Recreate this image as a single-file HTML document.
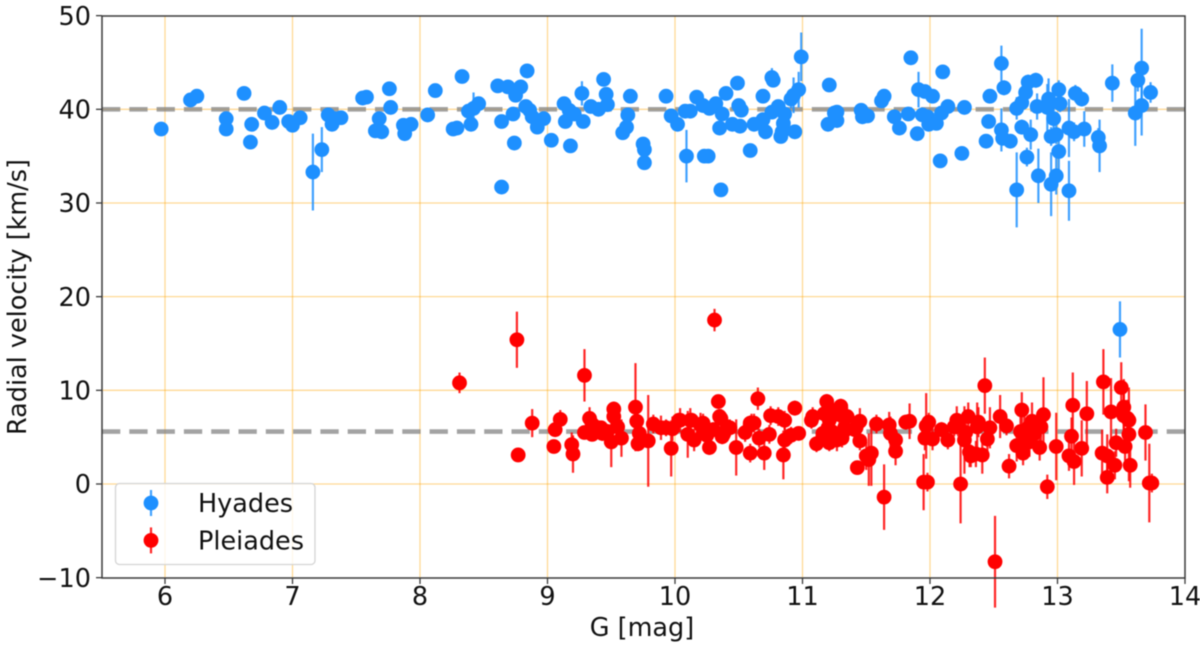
<!DOCTYPE html>
<html>
<head>
<meta charset="utf-8">
<style>
html,body{margin:0;padding:0;background:#fff;width:1200px;height:648px;overflow:hidden}
svg{display:block;filter:blur(0.4px)}
text{font-family:"DejaVu Sans","Liberation Sans",sans-serif;fill:#111}
</style>
</head>
<body>
<svg id="chart" xmlns="http://www.w3.org/2000/svg" width="1200" height="648" viewBox="0 0 1200 648"></svg>
<script>
const xTicks = [6, 7, 8, 9, 10, 11, 12, 13, 14];
const yTicks = [-10, 0, 10, 20, 30, 40, 50];
const refLines = [40, 5.6];

const hyadesG = [5.97,6.20,6.25,6.48,6.48,6.62,6.68,6.67,6.78,6.84,6.90,6.97,7.00,7.06,7.16,7.23,7.28,7.31,7.33,7.38,7.55,7.58,7.68,7.65,7.70,7.76,7.77,7.87,7.88,7.93,8.06,8.12,8.26,8.29,8.33,8.40,8.38,8.42,8.46,8.61,8.64,8.64,8.69,8.73,8.75,8.74,8.79,8.84,8.83,8.86,8.88,8.92,8.97,9.03,9.13,9.14,9.17,9.21,9.18,9.27,9.28,9.34,9.40,9.44,9.46,9.47,9.63,9.65,9.62,9.59,9.75,9.76,9.76,
9.93,9.97,10.02,10.08,10.12,10.09,10.17,10.22,10.27,10.32,10.37,10.23,10.26,10.40,10.35,10.36,10.45,10.49,10.51,10.50,10.52,10.59,10.62,10.69,10.69,10.71,10.76,10.76,10.77,10.81,10.86,10.85,10.84,10.83,10.94,10.91,10.93,10.97,10.99,11.21,11.20,11.27,11.25,11.27,11.46,11.47,11.51,11.62,11.64,11.72,11.76,11.83,11.85,11.91,11.96,11.90,11.94,11.98,11.99,12.05,12.02,12.09,12.14,12.10,12.08,12.25,12.27,12.44,12.46,12.47,12.56,12.56,12.57,12.58,12.63,12.68,12.68,12.72,12.72,12.75,12.77,12.76,12.79,12.83,12.85,12.84,12.93,12.92,12.95,12.95,12.97,12.99,13.01,13.01,12.99,13.02,13.09,13.09,13.13,13.14,13.19,13.21,13.32,13.33,13.43,13.61,13.63,13.66,13.66,13.73,13.49];
const hyadesRV = [37.9,41.0,41.4,39.0,37.9,41.7,38.4,36.5,39.6,38.6,40.2,38.7,38.3,39.1,33.3,35.7,39.4,38.4,39.0,39.1,41.2,41.3,39.0,37.7,37.6,42.2,40.2,38.3,37.4,38.4,39.4,42.0,37.9,38.0,43.5,38.4,39.8,40.1,40.6,42.5,38.7,31.7,42.4,39.5,41.5,36.4,42.4,44.1,40.3,39.9,39.2,38.1,39.0,36.7,40.6,38.7,39.9,39.5,36.1,41.7,38.7,40.3,40.0,43.2,41.6,40.5,39.4,41.4,38.1,37.5,36.3,35.7,34.3,
41.4,39.3,38.4,39.8,39.8,35.0,41.3,40.4,40.1,40.6,39.5,35.0,35.0,41.7,38.0,31.4,38.4,42.8,38.2,40.4,39.9,35.6,38.4,38.9,41.4,37.6,39.7,43.4,43.1,40.3,39.5,38.5,37.6,37.1,37.6,41.1,41.5,42.1,45.6,42.6,38.4,38.8,39.6,39.7,39.9,39.2,39.3,40.9,41.4,39.2,38.0,39.5,45.5,42.1,41.9,37.4,39.4,39.2,38.4,38.5,41.4,39.6,40.3,44.0,34.5,35.3,40.2,36.6,38.7,41.4,44.9,37.8,36.9,42.3,36.6,31.4,40.1,40.7,38.1,41.8,42.9,34.9,37.3,43.1,32.9,40.3,41.1,40.2,37.1,32.0,39.0,32.9,35.5,42.1,37.3,40.6,38.0,31.3,37.6,41.7,41.1,37.9,37.0,36.1,42.8,39.6,43.1,44.4,40.4,41.8,16.5];
const hyadesErr = [0.2,0.2,0.2,0.3,0.3,0.2,0.3,0.3,0.2,0.2,0.2,0.3,0.3,0.2,4.1,2.4,0.4,0.3,0.3,0.3,0.2,0.2,0.3,0.3,0.3,0.3,0.3,0.3,0.3,0.3,0.3,0.3,0.2,0.2,0.3,0.4,0.4,1.7,0.4,0.3,0.3,0.4,0.3,0.4,0.4,0.4,0.4,0.4,0.4,0.4,0.4,0.4,0.4,0.4,0.4,0.4,0.4,0.4,0.4,1.3,0.4,0.4,0.4,0.4,0.4,0.4,0.4,0.4,0.4,0.4,0.5,0.5,0.5,
0.4,0.5,0.5,0.4,0.4,2.8,0.4,0.4,0.4,0.4,0.5,0.4,0.4,0.4,0.4,0.4,0.5,0.4,0.5,0.5,0.5,0.5,0.5,0.5,0.5,0.5,0.5,1.0,0.5,0.5,0.5,0.5,0.5,0.5,0.5,1.0,1.9,1.9,2.6,0.4,0.5,0.5,0.5,0.5,0.5,0.5,0.5,0.5,0.5,0.5,0.5,0.5,0.5,1.9,0.6,0.6,0.5,0.6,0.6,0.6,0.5,0.5,0.6,0.5,0.5,0.6,0.7,0.6,0.6,0.5,1.9,2.3,0.6,0.8,0.7,4.0,1.2,0.9,0.8,0.7,0.8,1.0,1.6,0.8,2.9,1.4,2.2,2.5,1.0,3.4,1.2,2.0,2.0,1.0,1.0,0.9,3.1,3.2,1.0,0.9,0.8,1.9,1.0,2.8,2.0,3.5,1.2,4.2,3.2,1.1,3.0];

const pleiadesG = [8.31,8.76,8.77,8.88,9.10,9.06,9.05,9.19,9.20,9.29,9.33,9.29,9.35,9.35,9.42,9.43,9.50,9.52,9.52,9.55,9.58,9.69,9.70,9.72,9.71,9.79,9.83,9.89,9.93,9.97,9.98,10.03,10.10,10.12,10.15,10.20,10.22,10.23,10.27,10.31,10.34,10.36,10.38,10.43,10.48,10.59,10.55,10.59,
10.62,10.65,10.66,10.70,10.74,10.75,10.81,10.86,10.85,10.86,10.91,10.94,10.97,11.07,11.08,11.11,11.19,11.17,11.21,11.20,11.21,11.17,11.30,11.29,11.27,11.31,11.35,11.33,11.43,11.45,11.42,11.45,11.50,11.52,11.54,11.58,11.64,11.68,11.69,11.73,11.73,11.81,11.84,11.95,11.98,11.97,11.99,11.96,12.02,12.09,12.14,12.19,12.21,12.22,12.27,12.30,12.24,12.31,12.32,12.37,12.36,12.41,12.43,12.47,12.45,12.51,12.55,12.60,12.62,12.72,12.71,12.68,12.73,12.75,12.80,12.82,12.86,12.87,12.89,12.92,12.99,13.11,13.12,13.09,13.13,13.19,13.23,13.36,13.35,13.39,13.39,13.42,13.45,13.46,13.50,13.52,13.52,13.53,13.56,13.56,13.57,13.69,13.72,13.74,
11.16,11.23,11.24,11.33,11.41,10.22,10.30,10.13,10.04,10.25,10.35,10.41,10.37,10.59,10.60,12.38,12.28,12.84,12.77,12.74,12.78,13.55,9.36,9.40,9.47];
const pleiadesRV = [10.8,15.4,3.1,6.5,6.9,5.8,4.0,4.2,3.2,11.6,7.0,5.5,6.4,5.3,6.0,5.4,4.5,8.0,7.2,6.1,4.9,8.2,6.7,5.4,4.3,4.6,6.4,6.0,6.0,3.8,5.9,6.8,5.3,6.8,4.7,6.3,6.5,5.6,3.9,17.5,8.8,7.0,5.3,6.0,3.9,6.3,5.5,3.3,
6.5,9.1,4.9,3.3,5.3,7.3,7.2,6.8,3.1,4.7,5.2,8.1,5.4,6.8,7.2,4.3,8.8,7.5,4.4,6.0,6.8,5.3,8.3,7.4,4.7,4.9,7.2,6.0,1.75,6.7,6.0,4.6,3.0,2.6,3.3,6.4,-1.4,6.3,5.4,4.7,3.5,6.6,6.7,0.2,0.2,6.2,6.6,4.9,4.8,5.8,4.7,6.1,6.8,6.3,4.7,7.2,0.0,3.4,3.0,6.1,3.2,3.1,10.5,6.0,4.8,-8.3,7.2,6.2,1.9,7.9,5.6,4.1,3.3,4.9,6.7,5.4,3.9,6.1,7.4,-0.3,4.0,5.1,8.4,3.0,2.4,3.8,7.5,10.9,3.3,3.0,0.7,7.7,2.0,4.4,10.3,8.2,7.3,4.0,6.8,5.3,2.0,5.5,0.1,0.1,
5.4,5.6,7.8,5.7,5.8,5.4,5.8,6.8,6.8,5.2,7.2,6.1,5.05,6.5,6.5,6.6,5.5,6.0,6.0,5.6,4.5,7.0,5.6,6.0,5.6];
const pleiadesErr = [1.1,3.0,0.4,1.5,1.0,0.6,0.5,1.3,2.0,2.8,1.2,0.6,0.8,0.7,0.7,0.8,2.7,0.8,0.8,0.8,2.0,4.7,0.8,0.8,0.8,4.9,1.0,1.3,0.9,3.0,1.3,0.8,2.5,1.3,1.2,1.3,1.0,0.8,0.8,1.2,0.6,1.0,1.0,0.9,3.0,1.0,1.0,1.0,
1.0,1.2,1.0,1.8,1.0,1.0,1.0,1.0,2.6,2.3,0.9,0.8,0.6,0.9,1.0,0.9,0.8,0.9,0.9,1.0,0.9,0.9,0.8,1.0,1.2,1.0,1.0,0.9,0.6,1.4,1.0,1.0,1.5,2.8,3.5,1.0,3.5,1.4,1.8,1.0,1.5,0.8,1.9,3.0,1.0,3.5,1.0,1.3,1.2,0.8,1.0,1.0,1.5,1.2,3.6,1.5,4.2,1.6,1.2,2.6,1.4,2.0,3.0,2.2,1.5,4.9,2.3,1.0,1.3,1.9,2.2,1.7,1.3,1.3,2.0,1.8,1.4,1.6,4.0,1.3,3.6,2.0,3.5,1.6,2.5,3.0,3.5,3.5,2.5,2.3,1.7,3.6,1.5,1.5,2.7,3.0,2.5,1.5,2.0,5.0,2.4,3.0,4.2,1.0,
0.8,0.8,0.8,0.8,0.8,0.8,0.8,0.8,1.3,0.8,0.8,0.8,0.8,0.8,1.0,1.6,1.2,1.5,1.2,1.6,1.6,2.0,0.8,0.8,0.8];

const plot = {left: 102, right: 1185, top: 16, bottom: 578};
const NS = 'http://www.w3.org/2000/svg';
const svg = document.getElementById('chart');

function xScale(v) { return 165 + (v - 6) * 127.5; }
function yScale(v) { return 484 - v * 9.367; }

function make(tag, attrs, parent) {
  const el = document.createElementNS(NS, tag);
  for (const k in attrs) el.setAttribute(k, attrs[k]);
  (parent || svg).appendChild(el);
  return el;
}

/* grid */
const gridGroup = make('g', {});


xTicks.slice(0, -1).forEach(function (t) {
  const line = make('line', {x1: xScale(t), x2: xScale(t), y1: plot.top, y2: plot.bottom, stroke: '#ffa500', 'stroke-opacity': 0.42, 'stroke-width': 1.3}, gridGroup);
  
  
});
yTicks.slice(1, -1).forEach(function (t) {
  const line = make('line', {x1: plot.left, x2: plot.right, y1: yScale(t), y2: yScale(t), stroke: '#ffa500', 'stroke-opacity': 0.42, 'stroke-width': 1.3}, gridGroup);
  
  
});

/* cluster mean reference lines */
refLines.forEach(function (v) {
  const line = make('line', {x1: plot.left, x2: plot.right, y1: yScale(v), y2: yScale(v), stroke: '#808080', 'stroke-opacity': 0.72, 'stroke-width': 4.6, 'stroke-dasharray': '18.3 9'});
  
  
});

/* series */
function drawSeries(gs, rvs, errs, color, seriesName) {
  const g = make('g', {});
  
  
  gs.forEach(function (x, i) {
    const bar = make('line', {x1: xScale(x), x2: xScale(x), y1: yScale(rvs[i] - errs[i]), y2: yScale(rvs[i] + errs[i]), stroke: color, 'stroke-opacity': 0.85, 'stroke-width': 2.2}, g);
    
    
  });
  gs.forEach(function (x, i) {
    const pt = make('circle', {cx: xScale(x), cy: yScale(rvs[i]), r: 7.4, fill: color}, g);
    
    
  });
}
drawSeries(hyadesG, hyadesRV, hyadesErr, '#1e90ff', 'hyades');
drawSeries(pleiadesG, pleiadesRV, pleiadesErr, '#ff0000', 'pleiades');

/* axes frame */
const frame = make('rect', {x: plot.left, y: plot.top, width: plot.right - plot.left, height: plot.bottom - plot.top, fill: 'none', stroke: '#3a3a3a', 'stroke-width': 1.5});



/* ticks */
xTicks.forEach(function (t) {
  const tick = make('line', {x1: xScale(t), x2: xScale(t), y1: plot.bottom, y2: plot.bottom + 6, stroke: '#3a3a3a', 'stroke-width': 1.3});
  
  
  const label = make('text', {x: xScale(t), y: 605, 'text-anchor': 'middle', 'font-size': 25.5});
  
  
  label.textContent = String(t);
});
yTicks.forEach(function (t) {
  const tick = make('line', {x1: plot.left - 6, x2: plot.left, y1: yScale(t), y2: yScale(t), stroke: '#3a3a3a', 'stroke-width': 1.3});
  
  
  const label = make('text', {x: 91, y: yScale(t) + 9.2, 'text-anchor': 'end', 'font-size': 25.5});
  
  
  label.textContent = String(t).replace('-', '\u2212');
});

/* axis titles */
const xTitle = make('text', {x: 642, y: 636, 'text-anchor': 'middle', 'font-size': 25.5});


xTitle.textContent = 'G [mag]';
const yTitle = make('text', {x: 0, y: 0, transform: 'translate(26,297) rotate(-90)', 'text-anchor': 'middle', 'font-size': 25.5});


yTitle.textContent = 'Radial velocity [km/s]';

/* legend */
const legend = make('g', {});


const legendBox = make('rect', {x: 115.5, y: 483.5, width: 199.5, height: 81, rx: 4, fill: '#fff', 'fill-opacity': 0.8, stroke: '#d4d4d4', 'stroke-width': 1.3}, legend);


const legendEntries = ['Hyades', 'Pleiades'];
const legendColors = ['#1e90ff', '#ff0000'];
legendEntries.forEach(function (name, i) {
  const cy = 503 + i * 37.4;
  const bar = make('line', {x1: 151, x2: 151, y1: cy - 13, y2: cy + 13, stroke: legendColors[i], 'stroke-opacity': 0.85, 'stroke-width': 2.2}, legend);
  
  
  const dot = make('circle', {cx: 151, cy: cy, r: 7.4, fill: legendColors[i]}, legend);
  
  
  const txt = make('text', {x: 198, y: cy + 9, 'font-size': 25.5}, legend);
  
  
  txt.textContent = name;
});
</script>
</body>
</html>
